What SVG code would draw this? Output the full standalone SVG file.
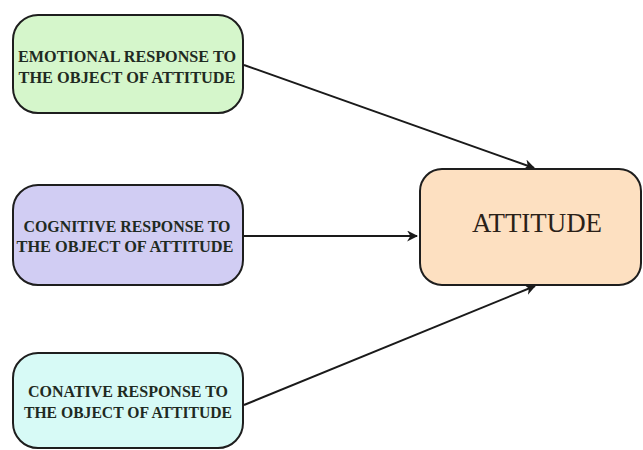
<svg xmlns="http://www.w3.org/2000/svg" width="643" height="450" viewBox="0 0 643 450">
<defs>
<style>
.box{stroke:#1e1e1e;stroke-width:2}
.small{font-family:"Liberation Serif","Times New Roman",serif;font-weight:bold;font-size:17.5px;fill:#1f2a22;text-anchor:middle}
.big{font-family:"Liberation Serif","Times New Roman",serif;font-size:26.5px;fill:#2a2118;text-anchor:middle}
.conn{stroke:#1a1a1a;stroke-width:2;fill:none;marker-end:url(#arr)}
</style>
<marker id="arr" viewBox="0 0 10 10" refX="9" refY="5" markerWidth="5.5" markerHeight="5.5" orient="auto" markerUnits="strokeWidth">
<path d="M0,0 L10,5 L0,10 L3,5 Z" fill="#1a1a1a"/>
</marker>
</defs>
<rect width="643" height="450" fill="#ffffff"/>
<g id="connectors">
<line class="conn" x1="244" y1="65" x2="534" y2="168"/>
<line class="conn" x1="244" y1="236" x2="417" y2="236"/>
<line class="conn" x1="244" y1="405" x2="535" y2="286"/>
</g>
<g id="emotional">
<rect class="box" x="13" y="15" width="230" height="98" rx="25" fill="#d5f6cb"/>
<text class="small" x="127" y="62" textLength="218" lengthAdjust="spacingAndGlyphs">EMOTIONAL RESPONSE TO</text>
<text class="small" x="127" y="83" textLength="217" lengthAdjust="spacingAndGlyphs">THE OBJECT OF ATTITUDE</text>
</g>
<g id="cognitive">
<rect class="box" x="13" y="185" width="230" height="100" rx="25" fill="#d1cdf3"/>
<text class="small" x="127" y="232" textLength="207" lengthAdjust="spacingAndGlyphs">COGNITIVE RESPONSE TO</text>
<text class="small" x="125" y="252" textLength="217" lengthAdjust="spacingAndGlyphs">THE OBJECT OF ATTITUDE</text>
</g>
<g id="conative">
<rect class="box" x="13" y="353" width="230" height="95" rx="25" fill="#d7faf6"/>
<text class="small" x="128" y="397" textLength="200" lengthAdjust="spacingAndGlyphs">CONATIVE RESPONSE TO</text>
<text class="small" x="128" y="418" textLength="208" lengthAdjust="spacingAndGlyphs">THE OBJECT OF ATTITUDE</text>
</g>
<g id="attitude">
<rect class="box" x="420" y="169" width="221" height="116" rx="22" fill="#fde0c1"/>
<text class="big" x="537" y="232" textLength="130" lengthAdjust="spacingAndGlyphs">ATTITUDE</text>
</g>
</svg>
